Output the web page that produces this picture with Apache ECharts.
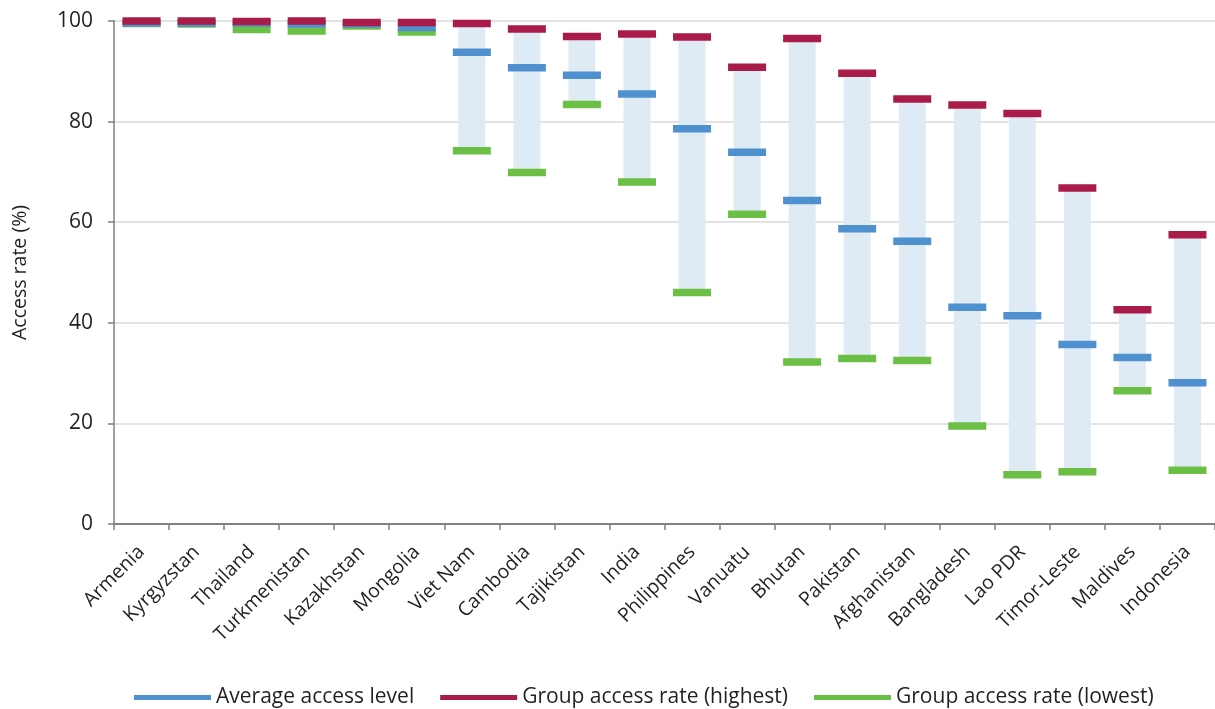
<!DOCTYPE html>
<html>
<head>
<meta charset="utf-8">
<title>Access rate</title>
<script src="https://cdn.jsdelivr.net/npm/echarts/dist/echarts.min.js"></script>
<style>
    html, body { margin: 0; padding: 0; background: #fff; }
    #estrutura { width: 1215px; height: 709px; }
</style>
</head>
<body>
<div id="estrutura"></div>
<script>
var paises = ['Armenia', 'Kyrgyzstan', 'Thailand', 'Turkmenistan', 'Kazakhstan', 'Mongolia', 'Viet Nam', 'Cambodia', 'Tajikistan', 'India',
    'Philippines', 'Vanuatu', 'Bhutan', 'Pakistan', 'Afghanistan', 'Bangladesh', 'Lao PDR', 'Timor-Leste', 'Maldives', 'Indonesia'];
var maior = [100, 100, 99.9, 100, 99.7, 99.7, 99.5, 98.4, 96.9, 97.4, 96.8, 90.8, 96.5, 89.6, 84.5, 83.3, 81.6, 66.8, 42.6, 57.5];
var media = [99.6, 99.6, 99.6, 99.4, 99.4, 98.7, 93.8, 90.7, 89.2, 85.5, 78.6, 73.9, 64.3, 58.7, 56.2, 43.1, 41.4, 35.7, 33.1, 28.1];
var menor = [99.5, 99.4, 98.3, 98.0, 99.0, 97.8, 74.2, 69.9, 83.4, 68.0, 46.0, 61.6, 32.2, 32.9, 32.5, 19.5, 9.8, 10.4, 26.5, 10.7];
var ticksY = [0, 20, 40, 60, 80, 100];

var nomes = ['Average access level', 'Group access rate (highest)', 'Group access rate (lowest)'];
var fonte = '"Open Sans", "Noto Sans", sans-serif';
var corTexto = '#231f20';

function CriaGrafico() {
    var chartDom = document.getElementById('estrutura');
    var myChart = echarts.init(chartDom, null, { renderer: 'canvas' });

    // faixa entre menor e maior
    var faixa = [];
    maior.forEach(function (v, i) {
        faixa.push(+(v - menor[i]).toFixed(2));
    });

    var marcador = [38, 7.5];

    var option = {
        animation: false,
        textStyle: { fontFamily: fonte, color: corTexto },
        grid: {
            left: 114,
            right: 0,
            top: 21,
            bottom: 185,
            containLabel: false,
            outerBoundsMode: 'none'
        },
        legend: {
            data: nomes,
            left: 129,
            top: 682,
            itemWidth: 77,
            itemHeight: 5,
            itemGap: 26,
            icon: 'rect',
            textStyle: { fontFamily: fonte, fontSize: 21, color: corTexto }
        },
        xAxis: {
            type: 'category',
            data: paises,
            axisLine: { lineStyle: { color: '#808080', width: 2 } },
            axisTick: { show: true, length: 6, lineStyle: { color: '#808080', width: 1.5 } },
            axisLabel: {
                rotate: 45,
                margin: 25,
                interval: 0,
                fontFamily: fonte,
                fontSize: 19.5,
                color: corTexto
            }
        },
        yAxis: {
            type: 'value',
            min: ticksY[0],
            max: ticksY[ticksY.length - 1],
            interval: 20,
            name: 'Access rate (%)',
            nameLocation: 'middle',
            nameRotate: 90,
            nameGap: 84,
            nameTextStyle: { fontFamily: fonte, fontSize: 19.5, color: corTexto },
            axisLine: { show: true, lineStyle: { color: '#808080', width: 1.5 } },
            axisTick: { show: true, length: 6, lineStyle: { color: '#808080', width: 1.5 } },
            axisLabel: { margin: 21, fontFamily: fonte, fontSize: 21, color: corTexto },
            splitLine: { lineStyle: { color: '#dadada', width: 1.5 } }
        },
        series: [
            {
                type: 'bar',
                stack: 'faixa',
                data: menor,
                barWidth: 27,
                itemStyle: { color: 'transparent' },
                silent: true
            },
            {
                type: 'bar',
                stack: 'faixa',
                data: faixa,
                barWidth: 27,
                itemStyle: { color: '#dfebf4' },
                silent: true
            },
            {
                name: nomes[2],
                type: 'scatter',
                data: menor,
                symbol: 'rect',
                symbolSize: marcador,
                itemStyle: { color: '#6cbf45', opacity: 1 }
            },
            {
                name: nomes[0],
                type: 'scatter',
                data: media,
                symbol: 'rect',
                symbolSize: marcador,
                itemStyle: { color: '#4f90cf', opacity: 1 }
            },
            {
                name: nomes[1],
                type: 'scatter',
                data: maior,
                symbol: 'rect',
                symbolSize: marcador,
                itemStyle: { color: '#a91b48', opacity: 1 }
            }
        ]
    };

    option && myChart.setOption(option);
}

CriaGrafico();
</script>
</body>
</html>
